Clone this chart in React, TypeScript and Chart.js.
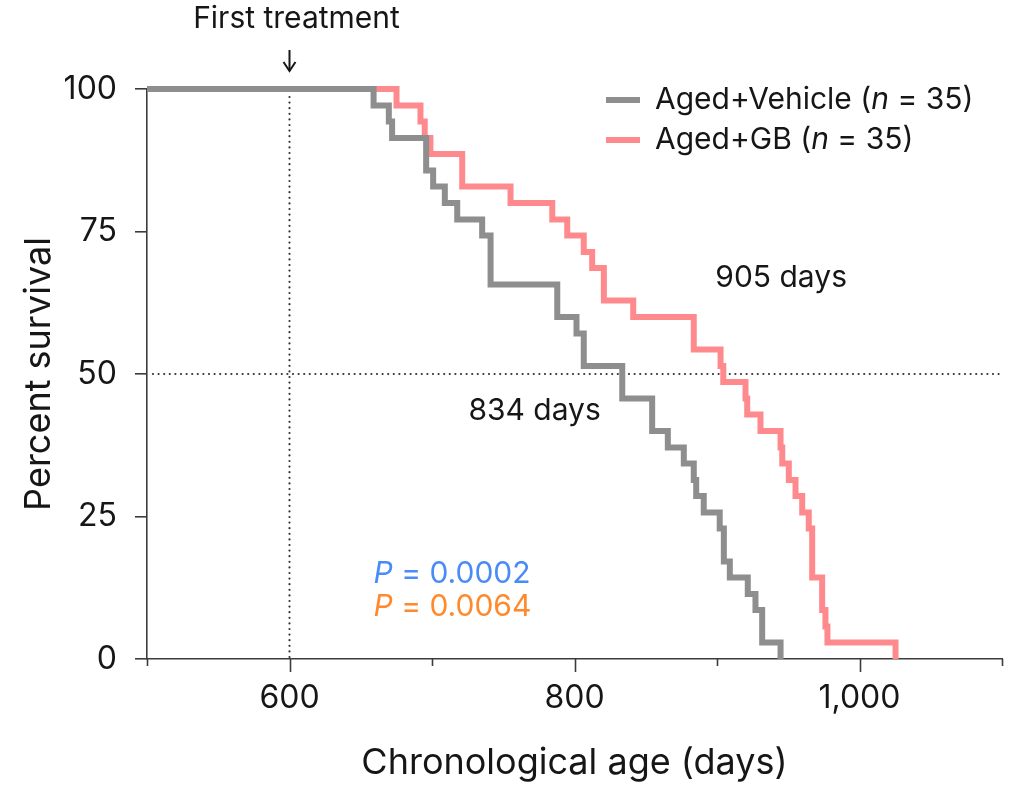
import React, { useEffect, useRef } from 'react';
import { Chart, registerables } from 'chart.js';

Chart.register(...registerables);

// ---- Data ----
const vehicleDays = [500, 659.0, 669.7, 672.0, 695.9, 700.8, 709.0, 717.7, 735.2, 741.1, 787.9, 801.4, 806.5, 833.5, 854.5, 865.5, 876.7, 883.7, 885.4, 890.7, 901.9, 904.8, 909.0, 921.6, 927.0, 931.7, 944.6];
const vehicleSurvival = [100, 97.1, 94.3, 91.4, 85.7, 82.9, 80.0, 77.1, 74.3, 65.7, 60.0, 57.1, 51.4, 45.7, 40.0, 37.1, 34.3, 31.4, 28.6, 25.7, 22.9, 17.1, 14.3, 11.4, 8.6, 2.9, 0];

const gbDays = [500, 675.1, 691.9, 694.9, 698.9, 721.2, 755.1, 784.4, 794.9, 806.5, 812.4, 820.6, 841.2, 883.7, 902.5, 904.4, 920.0, 921.2, 930.5, 944.6, 945.8, 950.4, 955.1, 959.8, 964.4, 966.8, 973.8, 976.1, 977.5, 1025.3];
const gbSurvival = [100, 97.1, 94.3, 91.4, 88.6, 82.9, 80.0, 77.1, 74.3, 71.4, 68.6, 62.9, 60.0, 54.3, 51.4, 48.6, 45.7, 42.9, 40.0, 37.1, 34.3, 31.4, 28.6, 25.7, 22.9, 14.3, 8.6, 5.7, 2.9, 0];

const xTickValues = [500, 600, 700, 800, 900, 1000, 1100];
const xTickLabels = ['', '600', '', '800', '', '1,000', ''];
const yTickValues = [0, 25, 50, 75, 100];
const seriesNames = ['Aged+Vehicle', 'Aged+GB'];
const seriesN = ['35', '35'];
const medianLabels = ['834 days', '905 days'];
const pValues = ['0.0002', '0.0064'];
const treatmentDay = 600;
const treatmentLabel = 'First treatment';
const xTitle = 'Chronological age (days)';
const yTitle = 'Percent survival';

const FONT = 'Inter, "Noto Sans", "DejaVu Sans", sans-serif';
const GRAY = '#8e8e8e';
const PINK = '#ff8a8e';
const BLUE = '#4a8cf5';
const ORANGE = '#ff8a2e';
const AXIS = '#3c3c3c';
const TEXT = '#161616';

function drawRuns(ctx: CanvasRenderingContext2D, runs: { t: string; italic?: boolean; color?: string }[], x: number, y: number, size: number) {
  let cx = x;
  for (const r of runs) {
    ctx.font = `${r.italic ? 'italic ' : ''}${size}px ${FONT}`;
    ctx.fillStyle = r.color || TEXT;
    ctx.fillText(r.t, cx, y);
    cx += ctx.measureText(r.t).width;
  }
}

const overlayPlugin = {
  id: 'overlay',
  beforeDatasetsDraw(chart: any) {
    const { ctx, chartArea, scales } = chart;
    const x = scales.x;
    const y = scales.y;
    ctx.save();
    ctx.strokeStyle = '#333';
    ctx.lineWidth = 2.2;
    ctx.lineCap = 'round';
    ctx.setLineDash([0, 5.6]);
    const xv = x.getPixelForValue(treatmentDay);
    ctx.beginPath();
    ctx.moveTo(xv, y.getPixelForValue(100) + 8);
    ctx.lineTo(xv, chartArea.bottom - 2);
    ctx.stroke();
    const y50 = y.getPixelForValue(50);
    ctx.beginPath();
    ctx.moveTo(chartArea.left + 6, y50);
    ctx.lineTo(chartArea.right, y50);
    ctx.stroke();
    ctx.restore();
  },
  afterDatasetsDraw(chart: any) {
    const { ctx, chartArea, scales } = chart;
    const x = scales.x;
    const y = scales.y;
    ctx.save();
    // x ticks (major/minor)
    ctx.strokeStyle = AXIS;
    ctx.lineWidth = 1.6;
    xTickValues.forEach((v, i) => {
      const px = Math.round(x.getPixelForValue(v)) + 0.5;
      const len = xTickLabels[i] ? 13 : 7;
      ctx.beginPath();
      ctx.moveTo(px, chartArea.bottom);
      ctx.lineTo(px, chartArea.bottom + len);
      ctx.stroke();
    });

    // arrow for first treatment
    const xa = x.getPixelForValue(treatmentDay);
    ctx.strokeStyle = TEXT;
    ctx.lineWidth = 2;
    ctx.beginPath();
    ctx.moveTo(xa, 50);
    ctx.lineTo(xa, 71);
    ctx.stroke();
    ctx.beginPath();
    ctx.moveTo(xa - 6, 62);
    ctx.lineTo(xa, 71);
    ctx.lineTo(xa + 6, 62);
    ctx.stroke();

    ctx.textBaseline = 'middle';
    ctx.textAlign = 'center';
    ctx.fillStyle = TEXT;
    ctx.font = `30px ${FONT}`;
    ctx.fillText(treatmentLabel, xa + 7, 19);

    // median labels
    ctx.font = `30px ${FONT}`;
    ctx.fillText(medianLabels[0], x.getPixelForValue(772), y.getPixelForValue(43.5));
    ctx.fillText(medianLabels[1], x.getPixelForValue(945), y.getPixelForValue(66.8));

    // P values
    ctx.textAlign = 'left';
    const pl = x.getPixelForValue(659);
    drawRuns(ctx, [{ t: 'P', italic: true, color: BLUE }, { t: ' = ' + pValues[0], color: BLUE }], pl, y.getPixelForValue(14.9), 30);
    drawRuns(ctx, [{ t: 'P', italic: true, color: ORANGE }, { t: ' = ' + pValues[1], color: ORANGE }], pl, y.getPixelForValue(9.1), 30);

    // legend
    const colors = [GRAY, PINK];
    const ly = [100, 140];
    seriesNames.forEach((name, i) => {
      ctx.strokeStyle = colors[i];
      ctx.lineWidth = 6;
      ctx.lineCap = 'butt';
      ctx.beginPath();
      ctx.moveTo(606, ly[i]);
      ctx.lineTo(640, ly[i]);
      ctx.stroke();
      drawRuns(ctx, [{ t: name + ' (' }, { t: 'n', italic: true }, { t: ' = ' + seriesN[i] + ')' }], 655, ly[i], 30);
    });
    ctx.restore();
  },
};

export default function App() {
  const ref = useRef<HTMLCanvasElement | null>(null);
  useEffect(() => {
    document.body.style.margin = '0';
    const canvas = ref.current!;
    const chart = new Chart(canvas, {
      type: 'line',
      data: {
        datasets: [
          {
            label: seriesNames[0],
            data: vehicleDays.map((d, i) => ({ x: d, y: vehicleSurvival[i] })),
            borderColor: GRAY,
            backgroundColor: GRAY,
            borderWidth: 6,
            stepped: 'before',
            pointRadius: 0,
            borderCapStyle: 'butt',
            borderJoinStyle: 'miter',
            clip: false as any,
          },
          {
            label: seriesNames[1],
            data: gbDays.map((d, i) => ({ x: d, y: gbSurvival[i] })),
            borderColor: PINK,
            backgroundColor: PINK,
            borderWidth: 6,
            stepped: 'before',
            pointRadius: 0,
            borderCapStyle: 'butt',
            borderJoinStyle: 'miter',
            clip: false as any,
          },
        ],
      },
      options: {
        responsive: false,
        animation: false,
        devicePixelRatio: 1,
        layout: { padding: { left: 0, top: 89, right: 22, bottom: 0 } },
        plugins: { legend: { display: false }, tooltip: { enabled: false } },
        scales: {
          x: {
            type: 'linear',
            min: 500,
            max: 1100,
            afterFit: (s: any) => { s.height = 147; },
            afterBuildTicks: (s: any) => { s.ticks = xTickValues.map((v) => ({ value: v })); },
            ticks: {
              autoSkip: false,
              maxRotation: 0,
              padding: 20,
              color: TEXT,
              font: { family: FONT, size: 32 },
              callback: (v: any) => { const i = xTickValues.indexOf(Number(v)); return i >= 0 ? xTickLabels[i] : ''; },
            },
            grid: { display: false, drawTicks: false },
            border: { display: true, color: AXIS, width: 1.6 },
            title: { display: true, text: xTitle, color: TEXT, font: { family: FONT, size: 36 }, padding: { top: 0, bottom: 21 } },
          },
          y: {
            type: 'linear',
            min: 0,
            max: 100,
            afterFit: (s: any) => { s.width = 147; },
            afterBuildTicks: (s: any) => { s.ticks = yTickValues.map((v) => ({ value: v })); },
            ticks: {
              padding: 18,
              color: TEXT,
              font: { family: FONT, size: 32 },
            },
            grid: { display: true, drawOnChartArea: false, drawTicks: true, tickLength: 12, color: AXIS, lineWidth: 1.6 },
            border: { display: true, color: AXIS, width: 1.6 },
            title: { display: true, text: yTitle, color: TEXT, font: { family: FONT, size: 36 }, padding: { top: 18, bottom: 0 } },
          },
        },
      },
      plugins: [overlayPlugin],
    } as any);
    return () => chart.destroy();
  }, []);
  return (
    <div style={{ width: 1024, height: 806, background: '#fff' }}>
      <canvas ref={ref} width={1024} height={806} style={{ display: 'block' }} />
    </div>
  );
}
